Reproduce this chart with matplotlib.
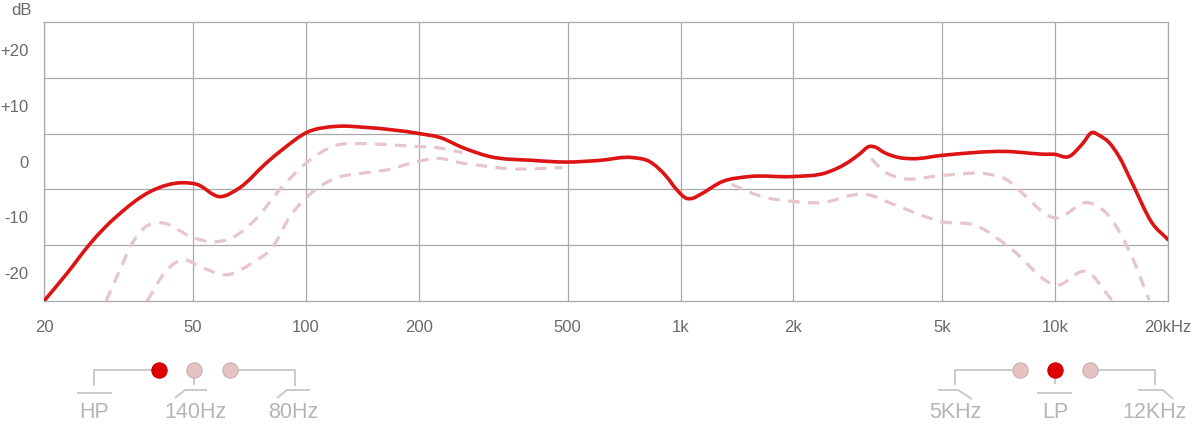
import matplotlib
matplotlib.use("Agg")
import numpy as np
import matplotlib.pyplot as plt
from matplotlib.path import Path
from matplotlib.patches import PathPatch
from matplotlib.ticker import FixedLocator, NullLocator

plt.rcParams['font.family'] = ['Liberation Sans', 'DejaVu Sans']

# ---------------- data (frequency in Hz, level in dB) ----------------
main_freq = [20, 23.0, 26.5, 28.9, 31.3, 38.4, 47.0, 51.2, 58.9, 66.6, 78.6,
             86.8, 100.5, 120.9, 145, 201, 228, 262, 309, 403, 496, 608, 744,
             826, 917, 975, 1037, 1076, 1123, 1293, 1526, 1988, 2450, 2822,
             2999, 3190, 3330, 3455, 3835, 4154, 4993, 7396, 9458, 9931,
             10890, 11800, 12540, 13090, 13920, 14800, 16030, 18130, 20000]
main_db = [-25, -20.1, -14.8, -12.0, -9.8, -5.4, -3.8, -4.1, -6.3, -4.7,
           -0.2, 2.2, 5.2, 6.3, 6.1, 5.0, 4.3, 2.5, 0.9, 0.2, -0.1, 0.2, 0.7,
           0.0, -2.7, -5.0, -6.6, -6.6, -6.0, -3.6, -2.7, -2.7, -2.0, 0.0,
           1.3, 2.7, 2.5, 1.8, 0.7, 0.5, 1.1, 1.8, 1.3, 1.3,
           0.9, 3.1, 5.2, 4.7, 3.4, 0.9, -3.8, -11.0, -14.0]

hp80_freq = [29.3, 31.9, 34.5, 37.2, 40.8, 49.9, 56.4, 63.8, 74.0, 85.2,
             100.5, 117.9, 141.8, 167.4, 197.6, 223, 262]
hp80_db = [-25, -19.4, -14.5, -11.8, -11.0, -13.6, -14.4, -13.6, -10.1, -5.0,
           -0.2, 2.7, 3.2, 3.0, 2.7, 2.5, 1.6]

hp140_freq = [37.7, 42.6, 47.0, 52.1, 61.5, 72.2, 81.6, 90.6, 102.4, 117.9,
              145.3, 167.4, 185.8, 205, 231.8, 257.2, 290.8, 349.7, 484]
hp140_db = [-25, -19.4, -17.6, -18.8, -20.3, -18.1, -15.3, -9.9, -5.9, -3.2,
            -2.0, -1.4, -0.5, 0.2, 0.5, -0.2, -0.7, -1.3, -1.1]

lp12_freq = [3228, 3497, 3835, 4993, 6664, 7396, 8362, 9458, 9931, 12310,
             13670, 16030, 17800]
lp12_db = [0.5, -1.8, -2.9, -2.5, -2.3, -3.2, -6.3, -9.5, -10.1, -7.4,
           -9.2, -17.1, -24.8]

lp5_freq = [1367, 1653, 2038, 2346, 3130, 3835, 4993, 6152, 7674, 9632,
            9931, 12310, 13920, 14250]
lp5_db = [-4.1, -6.3, -7.2, -7.4, -5.9, -8.1, -10.8, -11.5, -15.8, -21.7,
          -22.1, -19.9, -24.2, -25]

x_ticks = [20, 50, 100, 200, 500, 1000, 2000, 5000, 10000, 20000]
x_labels = ['20', '50', '100', '200', '500', '1k', '2k', '5k', '10k', '20kHz']
y_ticks = [-20, -10, 0, 10, 20]
y_labels = ['-20', '-10', '0', '+10', '+20']
y_grid = [-20, -15, -10, -5, 0, 5, 10, 15, 20]


def smooth_path(freq, db):
    """Cubic Bezier path through the read points (rendered smoothly in log-f space)."""
    lx = np.log10(np.asarray(freq, float))
    y = np.asarray(db, float)
    n = len(lx)
    h = np.diff(lx)
    s = np.diff(y) / h
    m = np.empty(n)
    m[0], m[-1] = s[0], s[-1]
    for i in range(1, n - 1):
        m[i] = (s[i - 1] * h[i] + s[i] * h[i - 1]) / (h[i - 1] + h[i])
    verts = [(freq[0], db[0])]
    codes = [Path.MOVETO]
    for i in range(n - 1):
        d = h[i] / 3.0
        verts += [(10 ** (lx[i] + d), y[i] + m[i] * d),
                  (10 ** (lx[i + 1] - d), y[i + 1] - m[i + 1] * d),
                  (freq[i + 1], db[i + 1])]
        codes += [Path.CURVE4] * 3
    return Path(verts, codes)


# ---------------- figure ----------------
W, H = 1200, 428
fig = plt.figure(figsize=(W / 100, H / 100), dpi=100)
ax = fig.add_axes([44 / W, 1 - 301 / H, (1168 - 44) / W, (301 - 22) / H])

RED = '#dc1414'
PINK = '#e6c6c9'
GRID = '#a9a9a9'

ax.set_xscale('log')
ax.set_xlim(20, 20000)
ax.set_ylim(-25, 25)

for f, d in [(hp80_freq, hp80_db), (hp140_freq, hp140_db),
             (lp12_freq, lp12_db), (lp5_freq, lp5_db)]:
    ax.add_patch(PathPatch(smooth_path(f, d), fill=False, edgecolor=PINK,
                           lw=2.3, linestyle=(0, (3.6, 2.6)),
                           capstyle='butt', zorder=2))
ax.add_patch(PathPatch(smooth_path(main_freq, main_db), fill=False,
                       edgecolor=RED, lw=2.6, joinstyle='round',
                       capstyle='round', zorder=3))
ax.set_xlim(20, 20000)
ax.set_ylim(-25, 25)

ax.xaxis.set_major_locator(FixedLocator(x_ticks))
ax.xaxis.set_minor_locator(NullLocator())
ax.set_xticklabels(x_labels)
ax.set_yticks(y_ticks)
ax.set_yticklabels(y_labels)
ax.set_yticks(y_grid, minor=True)
ax.tick_params(axis='both', which='both', length=0, labelsize=12,
               labelcolor='#6a6a6a')
ax.tick_params(axis='x', pad=14)
ax.tick_params(axis='y', pad=11)
ax.grid(True, which='major', axis='x', color=GRID, lw=0.9)
ax.grid(True, which='minor', axis='y', color=GRID, lw=0.9)
ax.grid(False, which='major', axis='y')
for sp in ax.spines.values():
    sp.set_color(GRID)
    sp.set_linewidth(0.9)
ax.set_axisbelow(True)
ax.text(-0.011, 1.043, 'dB', transform=ax.transAxes, ha='right', va='center',
        fontsize=12, color='#6a6a6a')

# ---------------- filter selector legend (pixel overlay) ----------------
ov = fig.add_axes([0, 0, 1, 1], zorder=5)
ov.set_xlim(0, W)
ov.set_ylim(H, 0)
ov.axis('off')
ov.patch.set_alpha(0)

LG = '#c6c6c6'
TXT = '#b5b5b5'
lk = dict(color=LG, lw=1.3, solid_capstyle='butt')

# HP group
ov.plot([153, 94, 94], [370, 370, 386], **lk)
ov.plot([77, 112], [393, 393], **lk)
ov.plot([194, 194], [377, 385], **lk)
ov.plot([175, 185, 207], [398, 390, 390], **lk)
ov.plot([237, 295, 295], [370, 370, 386], **lk)
ov.plot([277, 287, 310], [398, 390, 390], **lk)

# LP group
ov.plot([1012, 955, 955], [370, 370, 385], **lk)
ov.plot([938, 958, 972], [390, 390, 399], **lk)
ov.plot([1055, 1055], [377, 384], **lk)
ov.plot([1037, 1072], [393, 393], **lk)
ov.plot([1097, 1155, 1155], [370, 370, 385], **lk)
ov.plot([1138, 1163, 1173], [390, 390, 399], **lk)

dot_red = dict(marker='o', ms=11, mfc='#e00000', mec='#c00000', mew=0.8,
               linestyle='none')
dot_pink = dict(marker='o', ms=11, mfc='#e5c3c3', mec='#c9aeae', mew=0.8,
                linestyle='none')
ov.plot([159], [370], **dot_red)
ov.plot([194, 230], [370, 370], **dot_pink)
ov.plot([1020, 1090], [370, 370], **dot_pink)
ov.plot([1055], [370], **dot_red)

tk = dict(fontsize=15.5, color=TXT, ha='center', va='center')
ov.text(94, 413, 'HP', **tk)
ov.text(195, 413, '140Hz', **tk)
ov.text(293, 413, '80Hz', **tk)
ov.text(955, 413, '5KHz', **tk)
ov.text(1055, 413, 'LP', **tk)
ov.text(1155, 413, '12KHz', **tk)

fig.savefig('out.png', dpi=100, facecolor='white')
